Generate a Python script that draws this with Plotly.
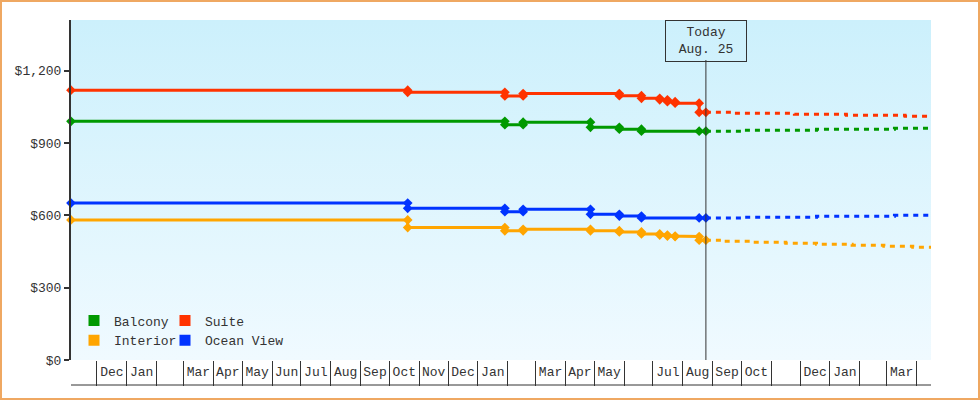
import base64
import pandas as pd
import plotly.graph_objects as go

# ---------------- data ----------------
TODAY = "2024-08-25"
TODAY_LABEL = "Today<br>Aug. 25"
X_START = "2022-11-04"
X_END = "2025-04-16"

BALCONY_DATES = ["2022-11-04", "2024-01-29", "2024-02-17", "2024-04-27", "2024-05-27",
                 "2024-06-19", "2024-08-18", "2024-08-25"]
BALCONY_PRICES = [990, 976, 986, 965, 957, 949, 949, 949]
BALCONY_FC_DATES = ["2024-08-25", "2024-10-03", "2024-12-18", "2025-03-09", "2025-04-16"]
BALCONY_FC_PRICES = [949, 953, 957, 961, 961]

SUITE_DATES = ["2022-11-04", "2023-10-20", "2024-01-29", "2024-02-17", "2024-05-27",
               "2024-06-19", "2024-07-08", "2024-07-16", "2024-07-24", "2024-08-18", "2024-08-25"]
SUITE_PRICES = [1119, 1110, 1095, 1105, 1096, 1085, 1079, 1071, 1065, 1027, 1027]
SUITE_FC_DATES = ["2024-08-25", "2024-09-23", "2024-11-25", "2025-01-18", "2025-03-20", "2025-04-16"]
SUITE_FC_PRICES = [1027, 1023, 1019, 1015, 1011, 1011]

INTERIOR_DATES = ["2022-11-04", "2023-10-20", "2024-01-29", "2024-02-17", "2024-04-27",
                  "2024-05-27", "2024-06-19", "2024-07-08", "2024-07-16", "2024-07-24",
                  "2024-08-18", "2024-08-25"]
INTERIOR_PRICES = [581, 549, 536, 542, 536, 531, 523, 518, 514, 512, 497, 497]
INTERIOR_FC_DATES = ["2024-08-25", "2024-09-13", "2024-10-13", "2024-11-16", "2024-12-18",
                     "2025-01-24", "2025-02-26", "2025-03-28", "2025-04-16"]
INTERIOR_FC_PRICES = [497, 492, 488, 484, 480, 476, 472, 468, 468]

OCEAN_DATES = ["2022-11-04", "2023-10-20", "2024-01-29", "2024-02-17", "2024-04-27",
               "2024-05-27", "2024-06-19", "2024-08-18", "2024-08-25"]
OCEAN_PRICES = [651, 629, 615, 625, 604, 597, 589, 589, 589]
OCEAN_FC_DATES = ["2024-08-25", "2024-10-03", "2024-12-18", "2025-03-09", "2025-04-16"]
OCEAN_FC_PRICES = [589, 592, 596, 600, 600]

MONTH_LABELS = ["", "Dec", "Jan", "", "Mar", "Apr", "May", "Jun", "Jul", "Aug", "Sep", "Oct",
                "Nov", "Dec", "Jan", "", "Mar", "Apr", "May", "", "Jul", "Aug", "Sep", "Oct",
                "", "Dec", "Jan", "", "Mar", ""]
FIRST_MONTH = "2022-11-01"

Y_TICKS = [0, 300, 600, 900, 1200]
Y_TICK_LABELS = ["$0", "$300", "$600", "$900", "$1,200"]
Y_MAX = 1410

# ---------------- style ----------------
FONT = "Liberation Mono"
TEXT = "#333333"
GREEN = "#009900"
RED = "#ff3300"
ORANGE = "#ffa500"
BLUE = "#0033ff"
BORDER = "#efa862"

SERIES = [
    ("Balcony", GREEN, BALCONY_DATES, BALCONY_PRICES, BALCONY_FC_DATES, BALCONY_FC_PRICES),
    ("Suite", RED, SUITE_DATES, SUITE_PRICES, SUITE_FC_DATES, SUITE_FC_PRICES),
    ("Interior", ORANGE, INTERIOR_DATES, INTERIOR_PRICES, INTERIOR_FC_DATES, INTERIOR_FC_PRICES),
    ("Ocean View", BLUE, OCEAN_DATES, OCEAN_PRICES, OCEAN_FC_DATES, OCEAN_FC_PRICES),
]


def step_points(dates, prices):
    xs, ys = [], []
    for i, (d, p) in enumerate(zip(dates, prices)):
        if i > 0 and p != prices[i - 1]:
            xs.append(d)
            ys.append(prices[i - 1])
        xs.append(d)
        ys.append(p)
    return xs, ys


fig = go.Figure()
for name, color, dates, prices, fdates, fprices in SERIES:
    fig.add_trace(go.Scatter(
        x=fdates, y=fprices, mode="lines", name=name + " forecast", showlegend=False,
        line=dict(color=color, width=3, dash="5px,5px", shape="hv"), hoverinfo="skip"))
for name, color, dates, prices, fdates, fprices in SERIES:
    xs, ys = step_points(dates, prices)
    fig.add_trace(go.Scatter(
        x=xs, y=ys, mode="lines+markers", name=name, showlegend=False, cliponaxis=False,
        line=dict(color=color, width=3),
        marker=dict(symbol="diamond", size=7.5, color=color)))

# legend entries (two columns)
LEGEND_COLS = {"Balcony": "legend", "Interior": "legend", "Suite": "legend2", "Ocean View": "legend2"}
for name in ["Balcony", "Interior", "Suite", "Ocean View"]:
    color = [s[1] for s in SERIES if s[0] == name][0]
    fig.add_trace(go.Scatter(
        x=[None], y=[None], mode="markers", name=name, legend=LEGEND_COLS[name],
        marker=dict(symbol="square", size=11, color=color)))

# month axis: labels centred in each month, separators at month starts
month_starts = pd.date_range(FIRST_MONTH, periods=len(MONTH_LABELS) + 1, freq="MS")
tickvals, ticktext = [], []
for i, lab in enumerate(MONTH_LABELS):
    if lab:
        mid = month_starts[i] + (month_starts[i + 1] - month_starts[i]) / 2
        tickvals.append(mid)
        ticktext.append(lab)

# gradient background for the plot area
svg = ("<svg xmlns='http://www.w3.org/2000/svg' width='10' height='100' preserveAspectRatio='none'>"
       "<defs><linearGradient id='g' x1='0' y1='0' x2='0' y2='1'>"
       "<stop offset='0' stop-color='#ccf0fc'/><stop offset='1' stop-color='#f0faff'/>"
       "</linearGradient></defs><rect width='10' height='100' fill='url(#g)'/></svg>")
bg_src = "data:image/svg+xml;base64," + base64.b64encode(svg.encode()).decode()

L, R, T, B = 71, 49, 20, 40
W, H = 980, 400
pw, ph = W - L - R, H - T - B


def px_x(p):
    return (p - L) / pw


def px_y(p):
    return (H - B - p) / ph


fig.update_layout(
    width=W, height=H,
    margin=dict(l=L, r=R, t=T, b=B),
    paper_bgcolor="white",
    plot_bgcolor="rgba(0,0,0,0)",
    font=dict(family=FONT, size=13, color=TEXT),
    showlegend=True,
    hovermode="closest",
    images=[dict(source=bg_src, xref="paper", yref="paper", x=0, y=1, sizex=1, sizey=1,
                 xanchor="left", yanchor="top", sizing="stretch", layer="below")],
    xaxis=dict(
        type="date", range=[X_START, X_END],
        tickmode="array", tickvals=tickvals, ticktext=ticktext,
        ticks="", showgrid=False, zeroline=False, showline=False,
        ticklabelstandoff=2,
        tickfont=dict(family=FONT, size=13, color=TEXT),
        minor=dict(ticks="outside", ticklen=25, tickwidth=1, tickcolor=TEXT,
                   dtick="M1", tick0=FIRST_MONTH, showgrid=False),
    ),
    yaxis=dict(
        range=[0, Y_MAX], tickmode="array", tickvals=Y_TICKS, ticktext=Y_TICK_LABELS,
        ticks="outside", ticklen=5, tickwidth=2, tickcolor=TEXT,
        showline=True, linewidth=2, linecolor=TEXT,
        showgrid=False, zeroline=False,
        tickfont=dict(family=FONT, size=13, color=TEXT),
    ),
    legend=dict(x=px_x(74), y=px_y(305.5), xanchor="left", yanchor="top",
                bgcolor="rgba(0,0,0,0)", borderwidth=0,
                font=dict(family=FONT, size=13, color=TEXT)),
    legend2=dict(x=px_x(165), y=px_y(305.5), xanchor="left", yanchor="top",
                 bgcolor="rgba(0,0,0,0)", borderwidth=0,
                 font=dict(family=FONT, size=13, color=TEXT)),
    shapes=[
        dict(type="line", xref="x", yref="paper", x0=TODAY, x1=TODAY, y0=0, y1=px_y(60),
             line=dict(color=TEXT, width=1)),
        dict(type="line", xref="paper", yref="paper", x0=0, x1=1, y0=px_y(385), y1=px_y(385),
             line=dict(color=TEXT, width=1)),
        dict(type="rect", xref="paper", yref="paper", x0=px_x(1), x1=px_x(979),
             y0=px_y(399), y1=px_y(1), line=dict(color=BORDER, width=2)),
    ],
    annotations=[
        dict(text=TODAY_LABEL, x=TODAY, xref="x", y=1, yref="paper", xanchor="center",
             yanchor="top", showarrow=False, bordercolor=TEXT, borderwidth=1, borderpad=1,
             bgcolor="rgba(0,0,0,0)", width=78, height=38,
             font=dict(family=FONT, size=13, color=TEXT)),
    ],
)

fig.write_html("out.html", config={"displayModeBar": False},
               post_script="document.body.style.margin='0';")
